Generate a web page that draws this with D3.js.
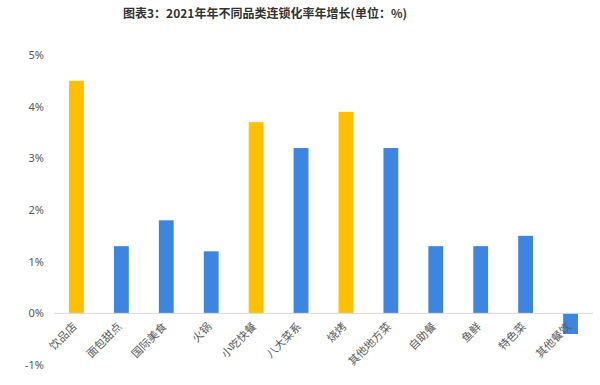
<!DOCTYPE html>
<html>
<head>
<meta charset="utf-8">
<script src="https://cdn.jsdelivr.net/npm/d3@7"></script>
<style>
  body { margin: 0; background: #fff; }
  svg { display: block; font-family: "Noto Sans CJK SC", "Noto Sans", sans-serif; }
</style>
</head>
<body>
<svg width="600" height="385"></svg>
<script>
// Categories and values (% growth)
const categories = ["饮品店", "面包甜点", "国际美食", "火锅", "小吃快餐", "八大菜系", "烧烤", "其他地方菜", "自助餐", "鱼鲜", "特色菜", "其他餐饮"];
const values = [4.5, 1.3, 1.8, 1.2, 3.7, 3.2, 3.9, 3.2, 1.3, 1.3, 1.5, -0.4];
// highlighted categories drawn in gold
const highlighted = ["饮品店", "小吃快餐", "烧烤"];
const yTicks = [-1, 0, 1, 2, 3, 4, 5];

const svg = d3.select("svg");

// Title
svg.append("text")
  .attr("x", 265)
  .attr("y", 18)
  .attr("text-anchor", "middle")
  .attr("font-size", 12)
  .attr("font-weight", "bold")
  .attr("fill", "#333")
  .text("图表3：2021年年不同品类连锁化率年增长(单位：%)");

// Scales
const x = d3.scaleBand()
  .domain(categories)
  .range([54, 593])
  .paddingInner(0.67)
  .paddingOuter(0.335);

const y = d3.scaleLinear()
  .domain([-1, 5])
  .range([365, 55]);

// Y axis labels (no line)
const yAxis = svg.append("g")
  .attr("transform", "translate(44,0)")
  .call(d3.axisLeft(y).tickValues(yTicks).tickSize(0).tickPadding(0).tickFormat(d => d + "%"));
yAxis.select(".domain").remove();
yAxis.selectAll("text")
  .attr("font-size", 11)
  .attr("fill", "#595959")
  .attr("font-family", "Noto Sans, sans-serif");

// Bars
svg.append("g")
  .selectAll("rect")
  .data(categories)
  .enter()
  .append("rect")
  .attr("x", d => x(d))
  .attr("width", x.bandwidth())
  .attr("y", (d, i) => y(Math.max(0, values[i])))
  .attr("height", (d, i) => Math.abs(y(values[i]) - y(0)))
  .attr("fill", d => highlighted.includes(d) ? "#FFC000" : "#3E85DF");

// Zero line
svg.append("line")
  .attr("x1", 54)
  .attr("x2", 593)
  .attr("y1", y(0))
  .attr("y2", y(0))
  .attr("stroke", "#D9D9D9")
  .attr("stroke-width", 1);

// Category labels, rotated
svg.append("g")
  .selectAll("text")
  .data(categories)
  .enter()
  .append("text")
  .attr("transform", d => `translate(${x(d) + x.bandwidth() / 2 + 1},${y(0) + 14}) rotate(-45)`)
  .attr("text-anchor", "end")
  .attr("font-size", 11)
  .attr("fill", "#595959")
  .text(d => d);
</script>
</body>
</html>
